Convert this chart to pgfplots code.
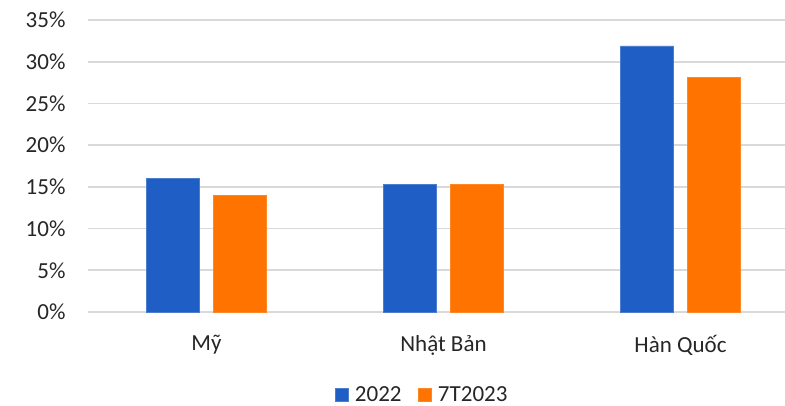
\documentclass[border=0pt]{standalone}
\usepackage{pgfplots}
\pgfplotsset{compat=1.18}
\usepackage{fontspec}
\setmainfont{Carlito}
\definecolor{barblue}{RGB}{31,94,196}
\definecolor{barorange}{RGB}{255,115,0}
\definecolor{gridgray}{RGB}{217,217,217}
\newcommand{\chartfont}{\fontsize{23bp}{27bp}\selectfont}
\begin{document}
\begin{tikzpicture}
\useasboundingbox (-88bp,-94bp) rectangle (697bp,312bp);
\begin{axis}[
  scale only axis,
  width=711bp, height=292bp,
  xmin=-0.5, xmax=2.5,
  ymin=0, ymax=35,
  axis line style={draw=none},
  major tick length=0pt,
  xtick={0,1,2},
  xticklabels={Mỹ, Nhật Bản, Hàn Quốc},
  ytick={0,5,10,15,20,25,30,35},
  yticklabels={0\%,5\%,10\%,15\%,20\%,25\%,30\%,35\%},
  ymajorgrids,
  grid style={gridgray, line width=1.6bp},
  tick label style={font=\chartfont, text=black!85},
  yticklabel style={anchor=east, xshift=-19bp},
  xticklabel style={anchor=north, yshift=-20bp},
  legend style={at={(0.4698,-0.282)}, anchor=center, draw=none, fill=none,
    legend columns=2, font=\chartfont, text=black!85,
    /tikz/every odd column/.append style={column sep=5bp},
    /tikz/every even column/.append style={column sep=14bp}},
  legend image code/.code={\fill[#1] (0bp,-6.5bp) rectangle (13bp,6.5bp);},
]
\addplot[ybar, bar width=0.224, bar shift=-0.141, fill=barblue, draw=barblue!80!white]
  coordinates {(0,16.0) (1,15.3) (2,31.9)};
\addlegendentry{2022}
\addplot[ybar, bar width=0.224, bar shift=0.141, fill=barorange, draw=barorange!85!white]
  coordinates {(0,14.0) (1,15.3) (2,28.1)};
\addlegendentry{7T2023}
\end{axis}
\end{tikzpicture}
\end{document}
